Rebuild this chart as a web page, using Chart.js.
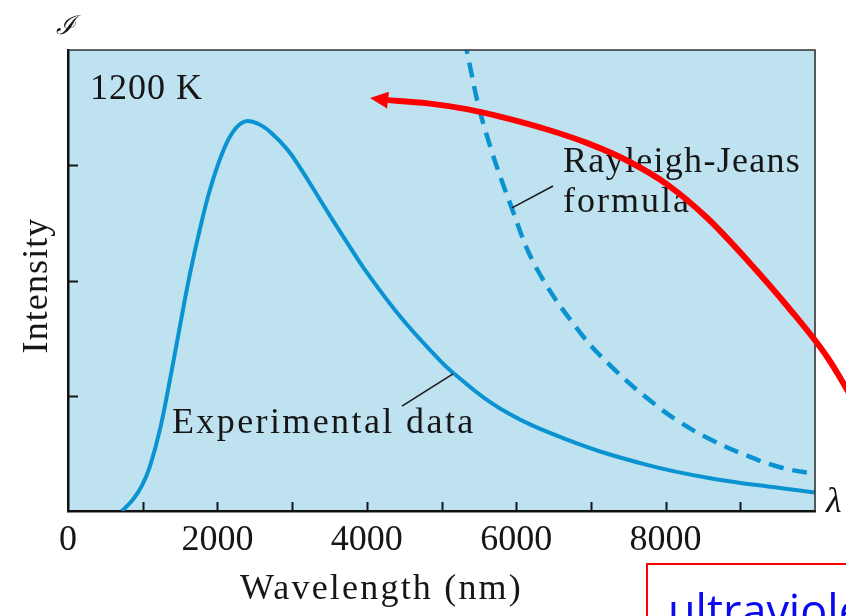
<!DOCTYPE html>
<html>
<head>
<meta charset="utf-8">
<script src="https://cdn.jsdelivr.net/npm/chart.js@4.4.1/dist/chart.umd.min.js"></script>
<style>
html,body{margin:0;padding:0;background:#ffffff;}
canvas{display:block;}
</style>
</head>
<body>
<canvas id="c" width="846" height="616"></canvas>
<script>
// ---- data ----
const expWavelength = [723, 870, 990, 1098, 1232, 1365, 1500, 1633, 1767, 1901, 2062, 2209, 2370, 2544, 2704, 2932, 3106, 3280, 3548, 3775, 4000, 4444, 4886, 5154, 5783, 6680, 7751, 8635, 9531, 10000];
const expIntensity  = [0, 0.10, 0.22, 0.39, 0.71, 1.14, 1.61, 2.06, 2.45, 2.79, 3.10, 3.29, 3.38, 3.36, 3.29, 3.14, 2.98, 2.80, 2.52, 2.29, 2.07, 1.69, 1.37, 1.20, 0.89, 0.62, 0.40, 0.28, 0.20, 0.16];

const rjWavelength = [5250, 5340, 5556, 5957, 6278, 6854, 7296, 7751, 8193, 8635, 9090, 9531, 10000];
const rjIntensity  = [4.30, 3.99, 3.37, 2.60, 2.10, 1.55, 1.24, 0.98, 0.77, 0.61, 0.48, 0.38, 0.32];

const xTickLabels = [0, 2000, 4000, 6000, 8000];

// red annotation arrow, in data units (tail -> head base), plus tip
const arrowLambda    = [10710, 10174, 9639, 9103, 8568, 8032, 7497, 6961, 6426, 5890, 5355, 4819, 4284];
const arrowIntensity = [0.734, 1.325, 1.770, 2.170, 2.536, 2.828, 3.037, 3.190, 3.308, 3.405, 3.485, 3.537, 3.565];
const arrowTip = [4043, 3.583];

// pointer lines (data units)
const rjPointer  = [[5944, 2.63], [6493, 2.82]];
const expPointer = [[5154, 1.19], [4471, 0.91]];

// ---- styles ----
const PLOT_BG = '#bee2f0';
const CURVE = '#0b93d1';
const INK = '#161616';
const SERIF = '"Liberation Serif", "DejaVu Serif", serif';

function sx(c, v){ return c.scales.x.getPixelForValue(v); }
function sy(c, v){ return c.scales.y.getPixelForValue(v); }

function text(ctx, s, x, y, size, spacing, opts){
  opts = opts || {};
  ctx.save();
  ctx.font = (opts.style || '') + ' ' + size + 'px ' + (opts.family || SERIF);
  ctx.fillStyle = opts.color || INK;
  ctx.textAlign = opts.align || 'left';
  ctx.textBaseline = 'alphabetic';
  try { ctx.letterSpacing = spacing + 'px'; } catch(e) {}
  ctx.fillText(s, x, y);
  ctx.restore();
}

const decor = {
  id: 'decor',
  beforeDraw(c){
    const {ctx, chartArea: a} = c;
    ctx.save();
    ctx.fillStyle = PLOT_BG;
    ctx.fillRect(a.left, a.top, a.right - a.left, a.bottom - a.top);
    ctx.restore();
  },
  afterDraw(c){
    const {ctx, chartArea: a} = c;
    const xs = c.scales.x, ys = c.scales.y;
    ctx.save();
    // top and right frame
    ctx.strokeStyle = '#333';
    ctx.lineWidth = 1.6;
    ctx.beginPath();
    ctx.moveTo(a.left, a.top); ctx.lineTo(a.right, a.top); ctx.lineTo(a.right, a.bottom);
    ctx.stroke();
    // inward tick marks
    ctx.strokeStyle = INK;
    ctx.lineWidth = 2;
    ctx.beginPath();
    xs.ticks.forEach(t => {
      if (t.value > xs.min && t.value < xs.max) {
        const px = Math.round(xs.getPixelForValue(t.value)) + 0.5;
        ctx.moveTo(px, a.bottom); ctx.lineTo(px, a.bottom - 9);
      }
    });
    ys.ticks.forEach(t => {
      if (t.value > ys.min && t.value < ys.max) {
        const py = Math.round(ys.getPixelForValue(t.value)) + 0.5;
        ctx.moveTo(a.left, py); ctx.lineTo(a.left + 10, py);
      }
    });
    ctx.stroke();

    // pointer lines
    ctx.strokeStyle = '#1a1a1a';
    ctx.lineWidth = 1.6;
    [rjPointer, expPointer].forEach(p => {
      ctx.beginPath();
      ctx.moveTo(sx(c, p[0][0]), sy(c, p[0][1]));
      ctx.lineTo(sx(c, p[1][0]), sy(c, p[1][1]));
      ctx.stroke();
    });
    ctx.restore();

    // texts inside plot
    text(ctx, '1200 K', sx(c, 295), sy(c, 3.574), 36, 1);
    text(ctx, 'Rayleigh-Jeans', sx(c, 6627), sy(c, 2.939), 36, 1.3);
    text(ctx, 'formula', sx(c, 6627), sy(c, 2.591), 36, 2);
    text(ctx, 'Experimental data', sx(c, 1392), sy(c, 0.678), 36, 2.4);

    // axis titles and symbols
    text(ctx, 'Wavelength (nm)', a.left + 172, a.bottom + 88, 36, 2.2);
    ctx.save();
    ctx.translate(a.left - 21, (a.top + a.bottom) / 2 + 5);
    ctx.rotate(-Math.PI / 2);
    text(ctx, 'Intensity', 0, 0, 36, 1.1, {align: 'center'});
    ctx.restore();
    text(ctx, 'λ', a.right + 11, a.bottom + 1, 36, 0, {style: 'italic'});
    text(ctx, 'ℐ', a.left - 12, a.top - 16, 26, 0, {style: 'italic'});

    // red arrow
    const pts = arrowLambda.map((l, i) => [sx(c, l), sy(c, arrowIntensity[i])]);
    ctx.save();
    ctx.strokeStyle = '#ff0000';
    ctx.fillStyle = '#ff0000';
    ctx.lineWidth = 6;
    ctx.lineJoin = 'round';
    ctx.beginPath();
    ctx.moveTo(pts[0][0], pts[0][1]);
    for (let i = 0; i < pts.length - 1; i++) {
      const p0 = pts[Math.max(0, i - 1)], p1 = pts[i], p2 = pts[i + 1], p3 = pts[Math.min(pts.length - 1, i + 2)];
      ctx.bezierCurveTo(
        p1[0] + (p2[0] - p0[0]) / 6, p1[1] + (p2[1] - p0[1]) / 6,
        p2[0] - (p3[0] - p1[0]) / 6, p2[1] - (p3[1] - p1[1]) / 6,
        p2[0], p2[1]);
    }
    ctx.stroke();
    const base = pts[pts.length - 1];
    const tip = [sx(c, arrowTip[0]), sy(c, arrowTip[1])];
    let dx = tip[0] - base[0], dy = tip[1] - base[1];
    const len = Math.hypot(dx, dy); dx /= len; dy /= len;
    const hw = 8.5;
    ctx.beginPath();
    ctx.moveTo(tip[0], tip[1]);
    ctx.lineTo(base[0] - dy * hw, base[1] + dx * hw);
    ctx.lineTo(base[0] + dy * hw, base[1] - dx * hw);
    ctx.closePath();
    ctx.fill();
    ctx.restore();

    // red box with blue caption (cut by canvas edge)
    ctx.save();
    ctx.strokeStyle = '#ff0000';
    ctx.lineWidth = 2;
    ctx.strokeRect(647, 564, 260, 100);
    ctx.restore();
    text(ctx, 'ultraviolet catastrophe', 668, 627, 45, 0, {family: '"Open Sans", "Noto Sans", sans-serif', color: '#0a0aee'});
  }
};

new Chart(document.getElementById('c'), {
  type: 'line',
  data: {
    datasets: [
      {
        label: 'Experimental data',
        data: expWavelength.map((x, i) => ({x: x, y: expIntensity[i]})),
        borderColor: CURVE,
        borderWidth: 4,
        pointRadius: 0,
        fill: false,
        tension: 0.4,
        clip: 0
      },
      {
        label: 'Rayleigh-Jeans formula',
        data: rjWavelength.map((x, i) => ({x: x, y: rjIntensity[i]})),
        borderColor: CURVE,
        borderWidth: 4.5,
        borderDash: [15, 9],
        pointRadius: 0,
        fill: false,
        tension: 0.4,
        clip: 0
      }
    ]
  },
  options: {
    responsive: false,
    animation: false,
    devicePixelRatio: 1,
    layout: { padding: { top: 50, right: 31, left: 0, bottom: 0 } },
    plugins: { legend: { display: false }, tooltip: { enabled: false } },
    scales: {
      x: {
        type: 'linear',
        min: 0, max: 10000,
        z: 1,
        grid: { display: false, drawTicks: false },
        border: { display: true, color: '#111', width: 2.5 },
        ticks: {
          stepSize: 1000,
          autoSkip: false,
          maxRotation: 0, minRotation: 0,
          padding: 8,
          color: INK,
          font: { family: SERIF, size: 36 },
          callback: v => (xTickLabels.includes(v) ? String(v) : '')
        },
        afterFit: s => { s.height = 105; }
      },
      y: {
        type: 'linear',
        min: 0, max: 4,
        z: 1,
        grid: { display: false, drawTicks: false },
        border: { display: true, color: '#111', width: 2.5 },
        ticks: { stepSize: 1, display: false },
        afterFit: s => { s.width = 68; }
      }
    }
  },
  plugins: [decor]
});
</script>
</body>
</html>
